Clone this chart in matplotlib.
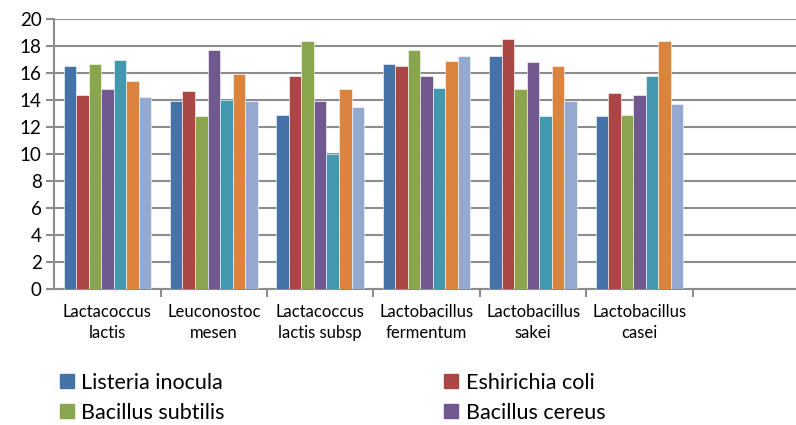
import numpy as np
import matplotlib
matplotlib.use("Agg")
import matplotlib.pyplot as plt
from matplotlib.patches import Patch

plt.rcParams['font.family'] = ['Lato', 'DejaVu Sans']

# categories (last slot is empty in the original)
categories = ['Lactacoccus\nlactis', 'Leuconostoc\nmesen', 'Lactacoccus\nlactis subsp',
              'Lactobacillus\nfermentum', 'Lactobacillus\nsakei', 'Lactobacillus\ncasei', '']

# series values
listeria = [16.5, 13.9, 12.9, 16.7, 17.3, 12.8]
ecoli = [14.4, 14.7, 15.8, 16.5, 18.5, 14.5]
subtilis = [16.7, 12.8, 18.4, 17.7, 14.8, 12.9]
cereus = [14.8, 17.7, 13.9, 15.8, 16.8, 14.4]
series5 = [17.0, 14.0, 10.0, 14.9, 12.8, 15.8]
series6 = [15.4, 15.9, 14.8, 16.9, 16.5, 18.4]
series7 = [14.2, 13.9, 13.5, 17.3, 13.9, 13.7]

series = [listeria, ecoli, subtilis, cereus, series5, series6, series7]
names = ['Listeria inocula', 'Eshirichia coli', 'Bacillus subtilis', 'Bacillus cereus',
         'Series 5', 'Series 6', 'Series 7']
colors = ['#4572A7', '#AA4643', '#89A54E', '#71588F', '#4198AF', '#DB843D', '#93A9CF']

fig = plt.figure(figsize=(7.96, 4.25), dpi=100)
ax = fig.add_axes([0.068, 0.32, 0.932, 0.635])

n = len(series)
width = 1 / (n + 1.5)
x = np.arange(len(categories) - 1)
for i, vals in enumerate(series):
    ax.bar(x + (i - (n - 1) / 2) * width, vals, width=width, color=colors[i],
           edgecolor='white', linewidth=0.4, zorder=3)

ax.set_ylim(0, 20)
ax.set_yticks(range(0, 21, 2))
ax.set_xlim(-0.5, 6.47)
ax.grid(axis='y', color='#8C8C8C', linewidth=1.5, zorder=0)

# ticks on category boundaries, labels at centres
ax.set_xticks(np.arange(0.5, 6.5, 1))
ax.set_xticklabels([])
ax.set_xticks(np.arange(len(categories)), minor=True)
ax.set_xticklabels(categories, minor=True, fontsize=12, linespacing=1.35)
ax.tick_params(axis='x', which='minor', length=0, pad=11)
ax.tick_params(axis='x', which='major', length=6, width=1.5, color='#8C8C8C')
ax.tick_params(axis='y', length=6, width=1.5, color='#8C8C8C', labelsize=13.5, pad=3)

for s in ['top', 'right']:
    ax.spines[s].set_visible(False)
for s in ['left', 'bottom']:
    ax.spines[s].set_color('#8C8C8C')
    ax.spines[s].set_linewidth(1.5)

# legend is cut off in the original: only first four entries visible, row-wise order
order = [0, 2, 1, 3]
handles = [Patch(color=colors[i]) for i in order]
labels = [names[i] for i in order]
fig.legend(handles, labels, loc='upper left', bbox_to_anchor=(0.064, 0.143),
           ncol=2, frameon=False, fontsize=15.5, handlelength=0.65, handleheight=0.65,
           handletextpad=0.35, columnspacing=10.2, labelspacing=0.45, borderaxespad=0)

fig.savefig('out.png', dpi=100)
